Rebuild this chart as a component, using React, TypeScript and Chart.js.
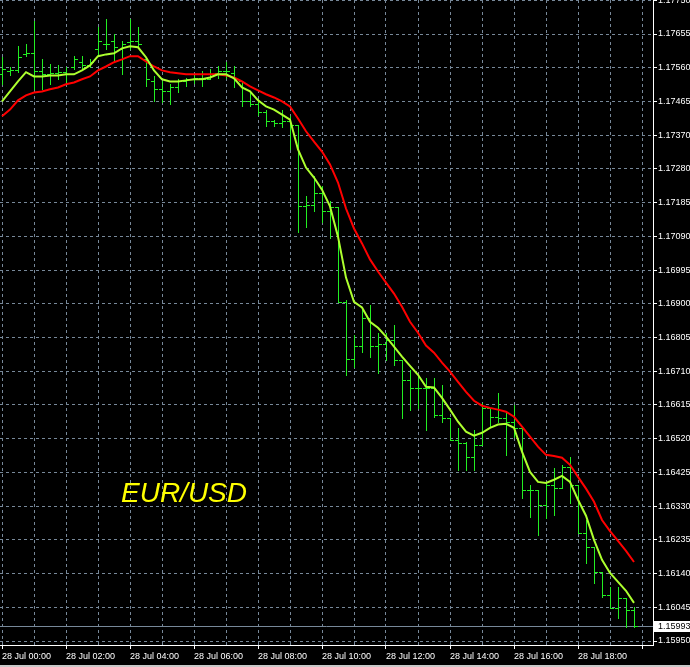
import { useEffect, useRef } from 'react';
import { Chart, registerables } from 'chart.js';

Chart.register(...registerables);

const FONT = "'Liberation Sans', Arial, sans-serif";
const GRID_COLOR = '#778899';
const BAR_COLOR = '#22ee22';
const FAST_COLOR = '#adff2f';
const SLOW_COLOR = '#ff0000';

const symbolLabel = 'EUR/USD';

const timeLabels = [
  '28 Jul 00:00', '28 Jul 02:00', '28 Jul 04:00', '28 Jul 06:00', '28 Jul 08:00',
  '28 Jul 10:00', '28 Jul 12:00', '28 Jul 14:00', '28 Jul 16:00', '28 Jul 18:00',
];

const priceTickLabels = [
  '1.15950', '1.16045', '1.16140', '1.16235', '1.16330', '1.16425', '1.16520',
  '1.16615', '1.16710', '1.16805', '1.16900', '1.16995', '1.17090', '1.17185',
  '1.17280', '1.17370', '1.17465', '1.17560', '1.17655', '1.17750',
];

const bidPrice = 1.15993;

// 15-minute bars from 28 Jul 00:00
const barOpen = [
  1.17542, 1.17550, 1.17553, 1.17598, 1.17601, 1.17550, 1.17542, 1.17545, 1.17548, 1.17562,
  1.17578, 1.17567, 1.17612, 1.17626, 1.17635, 1.17612, 1.17632, 1.17635, 1.17584, 1.17522,
  1.17500, 1.17494, 1.17505, 1.17522, 1.17528, 1.17533, 1.17528, 1.17545, 1.17550, 1.17545,
  1.17522, 1.17466, 1.17460, 1.17435, 1.17410, 1.17404, 1.17410, 1.17401, 1.17171, 1.17176,
  1.17210, 1.17157, 1.17168, 1.16903, 1.16743, 1.16780, 1.16858, 1.16780, 1.16783, 1.16797,
  1.16740, 1.16684, 1.16662, 1.16662, 1.16662, 1.16586, 1.16577, 1.16515, 1.16507, 1.16468,
  1.16501, 1.16605, 1.16580, 1.16577, 1.16566, 1.16549, 1.16375, 1.16375, 1.16333, 1.16389,
  1.16380, 1.16439, 1.16389, 1.16254, 1.16214, 1.16144, 1.16079, 1.16043, 1.16071, 1.16037,
];
const barHigh = [
  1.17590, 1.17562, 1.17621, 1.17626, 1.17691, 1.17584, 1.17570, 1.17567, 1.17562, 1.17593,
  1.17593, 1.17584, 1.17674, 1.17697, 1.17654, 1.17635, 1.17697, 1.17674, 1.17590, 1.17536,
  1.17522, 1.17514, 1.17528, 1.17533, 1.17542, 1.17550, 1.17556, 1.17564, 1.17578, 1.17564,
  1.17522, 1.17494, 1.17472, 1.17443, 1.17415, 1.17443, 1.17424, 1.17401, 1.17199, 1.17255,
  1.17227, 1.17185, 1.17168, 1.16909, 1.16811, 1.16881, 1.16895, 1.16816, 1.16816, 1.16839,
  1.16740, 1.16712, 1.16698, 1.16690, 1.16690, 1.16670, 1.16577, 1.16549, 1.16510, 1.16543,
  1.16619, 1.16605, 1.16648, 1.16594, 1.16614, 1.16549, 1.16389, 1.16375, 1.16397, 1.16437,
  1.16445, 1.16468, 1.16389, 1.16290, 1.16214, 1.16144, 1.16102, 1.16102, 1.16071, 1.16046,
];
const barLow = [
  1.17514, 1.17539, 1.17548, 1.17593, 1.17500, 1.17500, 1.17514, 1.17528, 1.17517, 1.17556,
  1.17556, 1.17562, 1.17593, 1.17612, 1.17576, 1.17542, 1.17612, 1.17618, 1.17508, 1.17466,
  1.17463, 1.17458, 1.17491, 1.17508, 1.17519, 1.17508, 1.17528, 1.17533, 1.17533, 1.17505,
  1.17452, 1.17452, 1.17429, 1.17396, 1.17396, 1.17393, 1.17331, 1.17100, 1.17112, 1.17157,
  1.17128, 1.17083, 1.16901, 1.16698, 1.16721, 1.16763, 1.16749, 1.16704, 1.16740, 1.16726,
  1.16577, 1.16600, 1.16605, 1.16543, 1.16580, 1.16566, 1.16515, 1.16431, 1.16431, 1.16431,
  1.16501, 1.16552, 1.16566, 1.16473, 1.16524, 1.16352, 1.16299, 1.16248, 1.16296, 1.16304,
  1.16380, 1.16338, 1.16254, 1.16169, 1.16113, 1.16074, 1.16043, 1.16015, 1.15989, 1.15989,
];
const barClose = [
  1.17556, 1.17553, 1.17590, 1.17601, 1.17550, 1.17542, 1.17545, 1.17548, 1.17542, 1.17584,
  1.17567, 1.17578, 1.17635, 1.17626, 1.17618, 1.17626, 1.17635, 1.17626, 1.17528, 1.17500,
  1.17494, 1.17505, 1.17522, 1.17528, 1.17533, 1.17528, 1.17542, 1.17550, 1.17550, 1.17528,
  1.17466, 1.17460, 1.17435, 1.17410, 1.17404, 1.17410, 1.17401, 1.17171, 1.17176, 1.17210,
  1.17157, 1.17168, 1.16903, 1.16743, 1.16780, 1.16858, 1.16780, 1.16783, 1.16797, 1.16740,
  1.16684, 1.16662, 1.16662, 1.16662, 1.16586, 1.16577, 1.16515, 1.16507, 1.16468, 1.16501,
  1.16605, 1.16580, 1.16577, 1.16566, 1.16549, 1.16375, 1.16375, 1.16333, 1.16389, 1.16380,
  1.16439, 1.16389, 1.16254, 1.16214, 1.16144, 1.16079, 1.16043, 1.16071, 1.16037, 1.15993,
];

const fastMA = [
  1.17466, 1.17494, 1.17522, 1.17548, 1.17536, 1.17536, 1.17539, 1.17539, 1.17542, 1.17542,
  1.17553, 1.17567, 1.17593, 1.17598, 1.17601, 1.17615, 1.17621, 1.17618, 1.17590, 1.17553,
  1.17528, 1.17522, 1.17522, 1.17525, 1.17528, 1.17528, 1.17533, 1.17542, 1.17542, 1.17531,
  1.17505, 1.17494, 1.17469, 1.17452, 1.17443, 1.17429, 1.17415, 1.17331, 1.17280, 1.17252,
  1.17218, 1.17171, 1.17086, 1.16971, 1.16903, 1.16887, 1.16847, 1.16830, 1.16805, 1.16777,
  1.16749, 1.16723, 1.16698, 1.16664, 1.16662, 1.16633, 1.16600, 1.16566, 1.16538, 1.16527,
  1.16535, 1.16549, 1.16558, 1.16560, 1.16549, 1.16482, 1.16425, 1.16397, 1.16394, 1.16403,
  1.16414, 1.16397, 1.16347, 1.16302, 1.16234, 1.16178, 1.16141, 1.16116, 1.16091, 1.16057,
];
const slowMA = [
  1.17424, 1.17443, 1.17469, 1.17483, 1.17491, 1.17494, 1.17500, 1.17505, 1.17514, 1.17519,
  1.17528, 1.17536, 1.17553, 1.17564, 1.17576, 1.17584, 1.17593, 1.17593, 1.17578, 1.17564,
  1.17553, 1.17548, 1.17545, 1.17542, 1.17542, 1.17542, 1.17542, 1.17542, 1.17539, 1.17533,
  1.17522, 1.17508, 1.17497, 1.17486, 1.17477, 1.17466, 1.17452, 1.17418, 1.17382, 1.17353,
  1.17325, 1.17289, 1.17238, 1.17165, 1.17109, 1.17067, 1.17022, 1.16988, 1.16957, 1.16926,
  1.16889, 1.16847, 1.16816, 1.16780, 1.16760, 1.16732, 1.16707, 1.16678, 1.16650, 1.16625,
  1.16611, 1.16605, 1.16600, 1.16594, 1.16580, 1.16552, 1.16524, 1.16496, 1.16473, 1.16470,
  1.16465, 1.16445, 1.16411, 1.16378, 1.16341, 1.16290, 1.16259, 1.16231, 1.16203, 1.16172,
];

const Y_MIN = 1.159388;
const Y_MAX = 1.177508;
const X_MIN = -0.25;
const X_MAX = 81.375;
const BARS_PER_HOUR = 4;
const BARS_PER_LABEL = 8;

const priceTickValues = priceTickLabels.map(
  (_, k) => 1.1595 + (k * (1.1775 - 1.1595)) / (priceTickLabels.length - 1)
);
const hourTickValues: number[] = [];
for (let v = 0; v <= 80; v += BARS_PER_HOUR) hourTickValues.push(v);

export default function App() {
  const ref = useRef<HTMLCanvasElement>(null);

  useEffect(() => {
    document.body.style.margin = '0';
    document.body.style.background = '#000';
    const canvas = ref.current;
    if (!canvas) return;

    const bgPlugin = {
      id: 'mtBackground',
      beforeDraw(chart: any) {
        const c = chart.ctx;
        c.save();
        c.fillStyle = '#000';
        c.fillRect(0, 0, chart.width, chart.height);
        c.fillStyle = '#c8c8c8';
        c.fillRect(0, chart.height - 2, chart.width, 2);
        c.restore();
      },
    };

    const ohlcPlugin = {
      id: 'ohlcBars',
      beforeDatasetsDraw(chart: any) {
        const { ctx, chartArea, scales } = chart;
        const x = scales.x;
        const y = scales.y;
        ctx.save();
        ctx.beginPath();
        ctx.rect(chartArea.left, chartArea.top, chartArea.right - chartArea.left, chartArea.bottom - chartArea.top);
        ctx.clip();
        // bid line
        const by = Math.round(y.getPixelForValue(bidPrice)) + 0.5;
        ctx.strokeStyle = GRID_COLOR;
        ctx.lineWidth = 1;
        ctx.beginPath();
        ctx.moveTo(chartArea.left, by);
        ctx.lineTo(chartArea.right, by);
        ctx.stroke();
        // bars
        ctx.strokeStyle = BAR_COLOR;
        ctx.beginPath();
        for (let i = 0; i < barOpen.length; i++) {
          const X = Math.round(x.getPixelForValue(i));
          const px = X + 0.5;
          const yh = Math.round(y.getPixelForValue(barHigh[i]));
          const yl = Math.round(y.getPixelForValue(barLow[i]));
          const yo = Math.round(y.getPixelForValue(barOpen[i])) + 0.5;
          const yc = Math.round(y.getPixelForValue(barClose[i])) + 0.5;
          ctx.moveTo(px, yh);
          ctx.lineTo(px, yl + 1);
          ctx.moveTo(X - 3, yo);
          ctx.lineTo(X, yo);
          ctx.moveTo(X + 1, yc);
          ctx.lineTo(X + 4, yc);
        }
        ctx.stroke();
        ctx.restore();
      },
      afterDatasetsDraw(chart: any) {
        const { ctx, chartArea, scales } = chart;
        const y = scales.y;
        ctx.save();
        // symbol text
        ctx.font = `italic 28px ${FONT}`;
        ctx.fillStyle = '#ffff00';
        ctx.textAlign = 'left';
        ctx.textBaseline = 'alphabetic';
        ctx.fillText(symbolLabel, 121, 502);
        // bid label
        const by = Math.round(y.getPixelForValue(bidPrice));
        ctx.fillStyle = '#ffffff';
        ctx.fillRect(chartArea.right + 1, by - 5, chart.width - chartArea.right - 1, 11);
        ctx.fillStyle = '#000000';
        ctx.font = `9px ${FONT}`;
        ctx.textBaseline = 'middle';
        ctx.fillText(bidPrice.toFixed(5), chartArea.right + 5, by + 0.5);
        ctx.restore();
      },
    };

    const chart = new Chart(canvas, {
      type: 'line',
      data: {
        datasets: [
          {
            label: 'Fast MA',
            data: fastMA.map((v, i) => ({ x: i, y: v })),
            borderColor: FAST_COLOR,
            borderWidth: 2,
            pointRadius: 0,
            tension: 0,
            fill: false,
          },
          {
            label: 'Slow MA',
            data: slowMA.map((v, i) => ({ x: i, y: v })),
            borderColor: SLOW_COLOR,
            borderWidth: 2,
            pointRadius: 0,
            tension: 0,
            fill: false,
          },
        ],
      },
      options: {
        animation: false,
        responsive: false,
        devicePixelRatio: 1,
        events: [],
        layout: { padding: 0 },
        plugins: {
          legend: { display: false },
          tooltip: { enabled: false },
          title: { display: false },
        },
        scales: {
          x: {
            type: 'linear',
            position: 'bottom',
            min: X_MIN,
            max: X_MAX,
            afterBuildTicks: (s: any) => {
              s.ticks = hourTickValues.map((v) => ({ value: v }));
            },
            afterFit: (s: any) => {
              s.height = 22;
              s.paddingLeft = 0;
              s.paddingRight = 0;
              s.paddingTop = 0;
              s.paddingBottom = 0;
            },
            grid: {
              color: GRID_COLOR,
              lineWidth: 1,
              drawTicks: true,
              tickLength: 4,
              tickWidth: 1,
              tickColor: (c: any) =>
                c.tick && c.tick.value % BARS_PER_LABEL === 0 ? '#ffffff' : 'rgba(0,0,0,0)',
            },
            border: { display: true, color: '#ffffff', width: 1, dash: [3, 3] },
            ticks: {
              color: '#ffffff',
              font: { family: FONT, size: 9 },
              align: 'start',
              padding: 2,
              autoSkip: false,
              maxRotation: 0,
              minRotation: 0,
              callback: (v: any) => {
                const n = Number(v);
                if (n % BARS_PER_LABEL !== 0) return '';
                return timeLabels[n / BARS_PER_LABEL] ?? '';
              },
            },
          },
          y: {
            type: 'linear',
            position: 'right',
            min: Y_MIN,
            max: Y_MAX,
            afterBuildTicks: (s: any) => {
              s.ticks = priceTickValues.map((v) => ({ value: v }));
            },
            afterFit: (s: any) => {
              s.width = 37;
              s.paddingLeft = 0;
              s.paddingRight = 0;
              s.paddingTop = 0;
              s.paddingBottom = 0;
            },
            grid: {
              color: GRID_COLOR,
              lineWidth: 1,
              drawTicks: true,
              tickLength: 4,
              tickWidth: 1,
              tickColor: '#ffffff',
            },
            border: { display: true, color: '#ffffff', width: 1, dash: [3, 3] },
            ticks: {
              color: '#ffffff',
              font: { family: FONT, size: 9 },
              padding: 1,
              autoSkip: false,
              callback: (_v: any, index: number) => priceTickLabels[index] ?? '',
            },
          },
        },
      },
      plugins: [bgPlugin, ohlcPlugin],
    } as any);

    return () => chart.destroy();
  }, []);

  return <canvas ref={ref} width={690} height={667} style={{ display: 'block' }} />;
}
